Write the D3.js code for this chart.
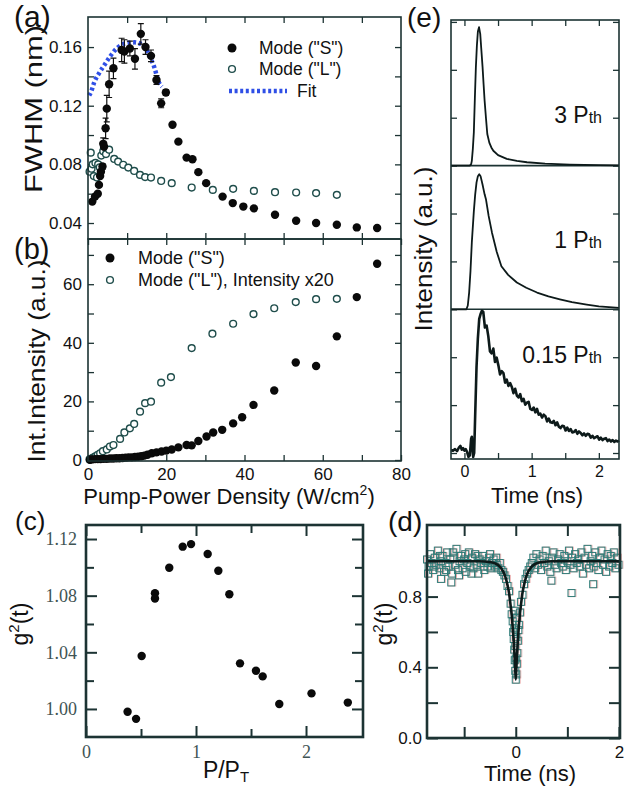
<!DOCTYPE html>
<html>
<head>
<meta charset="utf-8">
<script src="https://cdn.jsdelivr.net/npm/d3@7"></script>
<style>
body { margin: 0; background: #fff; }
</style>
</head>
<body>
<svg id="fig" width="636" height="787"></svg>
<script>
// ---- (a) FWHM vs pump power density ----
const aSx = [1.1,1.8,2.5,2.8,3.1,3.3,3.7,3.9,4.1,4.5,4.8,5.4,6.5,8.6,9.3,10.7,12.0,13.5,14.7,16.1,17.5,18.7,19.9,21.6,23.1,25.2,26.7,28.2,30.2,34.4,37.0,39.7,42.4,47.8,53.2,58.3,63.6,68.7,73.9];
const aSy = [0.0546,0.058,0.060,0.066,0.072,0.075,0.0785,0.094,0.092,0.1046,0.118,0.1346,0.1455,0.158,0.157,0.159,0.152,0.169,0.160,0.154,0.1375,0.1216,0.129,0.107,0.0955,0.0846,0.0835,0.0747,0.0672,0.058,0.0536,0.0512,0.050,0.0456,0.0415,0.040,0.0388,0.037,0.0366];
const aSerr = [0,0,0,0,0,0,0.002,0.004,0,0.007,0.009,0.009,0.007,0.008,0.008,0.005,0.007,0.007,0.005,0.004,0.003,0.003,0.002,0,0,0,0,0,0,0,0,0,0,0,0,0,0,0,0];
const aLx = [0.4,0.7,0.9,1.2,1.5,1.9,2.3,2.6,3.0,3.4,3.9,4.6,5.4,6.7,7.7,9.0,10.3,11.8,13.3,14.6,16.1,18.7,21.4,26.5,31.9,37.1,42.4,47.8,53.2,58.3,63.6];
const aLy = [0.075,0.088,0.077,0.080,0.072,0.081,0.071,0.080,0.078,0.086,0.089,0.087,0.090,0.0837,0.0819,0.0797,0.0778,0.0755,0.0728,0.0713,0.071,0.0687,0.0672,0.0642,0.0626,0.0633,0.0619,0.061,0.0608,0.0604,0.0592];
const fitX = [0.3,0.8,1.6,2.8,4.2,5.6,7.3,9.5,11.8,14.1,15.8,16.9,18.1,18.9];
const fitY = [0.127,0.1296,0.136,0.142,0.1477,0.1534,0.159,0.1625,0.1632,0.1614,0.1534,0.1466,0.136,0.133];

// ---- (b) integrated intensity ----
const bSx = [0.5,1.0,1.8,2.5,3.2,4.0,4.8,5.6,6.4,7.2,8.0,8.8,9.6,10.4,11.2,12.0,12.8,13.6,14.4,15.2,16.3,17.5,18.8,20.0,21.4,23.1,25.2,26.5,28.2,30.3,32.0,34.3,37.1,39.4,42.3,47.6,53.1,58.3,63.6,68.7,73.9];
const bSy = [0.1,0.2,0.3,0.3,0.3,0.4,0.4,0.5,0.5,0.6,0.6,0.7,0.8,0.9,0.9,1.0,1.1,1.3,1.5,1.8,2.3,2.6,2.9,3.2,3.6,4.3,5.1,5.0,6.5,8.0,9.4,10.3,12.5,14.6,18.8,23.7,33.3,32.1,42.2,55.6,67.0];
const bLx = [0.4,0.8,1.2,1.6,2.0,2.5,3.1,3.8,4.8,5.6,6.5,8.2,9.3,10.7,11.8,13.3,14.6,16.1,18.7,21.2,26.5,31.8,37.1,42.3,47.6,53.1,58.3,63.6];
const bLy = [0.2,0.4,0.7,1.0,1.3,1.8,2.3,3.0,3.6,4.6,5.1,7.2,9.4,10.8,12.3,16.5,19.4,19.9,26.4,28.3,38.2,43.1,46.5,49.8,51.8,53.9,54.9,55.0];

// ---- (c) g2 vs P/PT ----
const cX = [0.378,0.455,0.506,0.627,0.627,0.757,0.879,0.955,1.106,1.203,1.303,1.40,1.545,1.606,1.757,2.05,2.38];
const cY = [0.998,0.993,1.0374,1.0817,1.078,1.0997,1.1146,1.1164,1.1094,1.0976,1.081,1.0322,1.027,1.023,1.0035,1.011,1.0045];

// ---- (d) g2(t) measured squares and fit ----
const dPoints = [
  [-1.72,1.01],[-1.69,0.97],[-1.66,1.04],[-1.63,0.99],[-1.60,0.95],[-1.57,1.02],[-1.54,0.98],[-1.51,1.06],[-1.48,0.96],[-1.45,1.00],
  [-1.42,1.03],[-1.39,0.94],[-1.36,0.99],[-1.33,1.05],[-1.30,0.97],[-1.27,1.01],[-1.24,0.93],[-1.21,1.02],[-1.18,0.98],[-1.15,1.07],
  [-1.12,0.95],[-1.09,1.00],[-1.06,1.03],[-1.03,0.96],[-1.00,1.01],[-0.97,0.94],[-0.94,0.99],[-0.91,1.05],[-0.88,0.97],[-0.85,1.02],
  [-0.82,0.96],[-0.79,1.04],[-0.76,0.98],[-0.73,0.93],[-0.70,1.01],[-0.67,0.99],[-0.64,1.03],[-0.61,0.95],[-0.58,1.00],[-0.55,0.97],
  [-0.52,1.02],[-0.49,0.96],[-0.46,0.99],[-0.43,1.01],[-0.40,0.97],[-0.37,0.98],[-0.34,0.96],[-0.31,0.99],[-0.28,0.95],[-0.25,0.94],
  [-1.70,0.93],[-1.58,0.97],[-1.47,1.03],[-1.35,0.95],[-1.22,1.05],[-1.10,0.92],[-0.98,1.04],[-0.86,0.93],[-0.74,1.03],[-0.62,0.97],
  [-0.50,1.04],[-0.38,1.02],[-1.25,0.88],[-1.45,0.90],
  [-0.22,0.92],[-0.19,0.90],[-0.16,0.86],[-0.13,0.83],[-0.10,0.76],[-0.08,0.70],[-0.06,0.66],[-0.05,0.60],[-0.04,0.56],[-0.03,0.50],
  [-0.02,0.44],[-0.01,0.38],[0.00,0.33],[0.01,0.36],[0.02,0.42],[0.03,0.48],[0.04,0.55],[0.05,0.61],[0.06,0.64],[0.08,0.71],
  [0.10,0.77],[0.13,0.81],[0.16,0.87],[0.19,0.90],[0.22,0.93],[0.25,0.95],[0.28,0.97],
  [-0.03,0.62],[0.00,0.45],[0.02,0.68],[-0.02,0.72],[0.01,0.57],[-0.01,0.52],
  [0.31,0.99],[0.34,1.02],[0.37,0.96],[0.40,1.04],[0.43,0.98],[0.46,1.01],[0.49,0.95],[0.52,1.03],[0.55,0.99],[0.58,1.06],
  [0.61,0.97],[0.64,1.00],[0.67,0.94],[0.70,1.02],[0.73,1.05],[0.76,0.98],[0.79,0.96],[0.82,1.01],[0.85,1.04],[0.88,0.99],
  [0.91,0.97],[0.94,1.03],[0.97,0.95],[1.00,1.00],[1.03,1.06],[1.06,0.98],[1.09,1.02],[1.12,0.96],[1.15,1.04],[1.18,0.99],
  [1.21,1.01],[1.24,0.97],[1.27,1.05],[1.30,0.93],[1.33,1.02],[1.36,0.98],[1.39,1.07],[1.42,0.96],[1.45,1.00],[1.48,1.03],
  [1.51,0.97],[1.54,1.05],[1.57,0.99],[1.60,0.95],[1.63,1.02],[1.66,1.06],[1.69,0.98],[1.72,1.01],[1.75,0.94],[1.78,1.04],
  [1.81,0.97],[1.84,1.03],[1.87,0.99],[1.90,1.05],[1.93,0.96],[1.96,1.02],[1.99,0.98],
  [0.69,0.89],[1.08,0.82],[1.50,0.87]
];
const dFitT = [-1.72,-0.7,-0.5,-0.4,-0.3,-0.25,-0.2,-0.16,-0.13,-0.1,-0.08,-0.06,-0.04,-0.02,0,0.02,0.04,0.06,0.08,0.1,0.13,0.16,0.2,0.25,0.3,0.4,0.5,0.7,2.02];
const dFitG = [1.0,1.0,0.995,0.988,0.967,0.945,0.91,0.865,0.82,0.75,0.70,0.63,0.55,0.45,0.33,0.45,0.55,0.63,0.70,0.75,0.82,0.865,0.91,0.945,0.967,0.988,0.995,1.0,1.0];

// ---- (e) streak-camera time traces (value above each baseline) ----
const trace3 = [[-0.2,0],[0.08,0],[0.10,0.03],[0.11,0.1],[0.125,0.35],[0.14,0.7],[0.155,1.4],[0.17,2.05],[0.185,2.5],[0.20,2.8],[0.217,2.89],[0.235,2.75],[0.25,2.45],[0.27,2.05],[0.285,1.7],[0.30,1.36],[0.32,1.0],[0.34,0.66],[0.37,0.48],[0.40,0.38],[0.43,0.31],[0.5,0.22],[0.63,0.14],[0.78,0.1],[0.93,0.07],[1.2,0.04],[1.57,0.02],[2.0,0.01],[2.3,0.005]];
const trace1 = [[-0.2,0],[0.03,0],[0.05,0.08],[0.07,0.35],[0.09,0.8],[0.11,1.4],[0.14,2.05],[0.16,2.4],[0.18,2.65],[0.20,2.78],[0.22,2.82],[0.24,2.78],[0.27,2.6],[0.30,2.4],[0.32,2.3],[0.36,1.95],[0.41,1.6],[0.48,1.2],[0.55,0.9],[0.65,0.72],[0.78,0.56],[0.92,0.45],[1.08,0.35],[1.25,0.27],[1.42,0.21],[1.6,0.15],[1.82,0.1],[2.0,0.06],[2.3,0.03]];
const trace015 = [[-0.2,0.06],[-0.17,0.05],[-0.14,0.08],[-0.11,0.04],[-0.08,0.12],[-0.06,0.15],[-0.04,0.07],[-0.02,0.10],[0.0,0.05],[0.02,0.08],[0.04,0.02],[0.06,-0.08],[0.08,-0.05],[0.10,0.3],[0.11,0.34],[0.12,0.1],[0.13,-0.08],[0.145,0.0],[0.16,0.8],[0.18,1.8],[0.20,2.4],[0.22,2.8],[0.24,2.9],[0.26,2.97],
  [0.28,2.95],[0.305,2.62],[0.33,2.66],[0.355,2.44],[0.38,2.12],[0.405,2.08],[0.43,2.18],[0.455,1.90],[0.48,1.99],[0.505,1.83],
  [0.53,1.64],[0.555,1.71],[0.58,1.67],[0.605,1.47],[0.63,1.53],[0.655,1.40],[0.68,1.46],[0.705,1.38],[0.73,1.25],[0.755,1.34],
  [0.78,1.20],[0.805,1.16],[0.83,1.23],[0.855,1.08],[0.88,1.13],[0.905,1.01],[0.93,1.05],[0.955,1.07],[0.98,0.92],[1.005,0.90],
  [1.03,0.95],[1.055,0.85],[1.08,0.92],[1.105,0.80],[1.13,0.82],[1.155,0.74],[1.18,0.80],[1.205,0.77],[1.23,0.66],[1.255,0.72],
  [1.28,0.64],[1.305,0.63],[1.33,0.67],[1.355,0.58],[1.38,0.64],[1.405,0.55],[1.43,0.52],[1.455,0.57],[1.48,0.56],[1.505,0.47],
  [1.53,0.53],[1.555,0.46],[1.58,0.50],[1.605,0.43],[1.63,0.44],[1.655,0.48],[1.68,0.40],[1.705,0.45],[1.73,0.42],[1.755,0.37],
  [1.78,0.41],[1.805,0.36],[1.83,0.40],[1.855,0.39],[1.88,0.32],[1.905,0.36],[1.93,0.31],[1.955,0.33],[1.98,0.35],[2.005,0.28],
  [2.03,0.32],[2.055,0.27],[2.08,0.30],[2.105,0.31],[2.13,0.25],[2.155,0.28],[2.18,0.24],[2.205,0.27],[2.23,0.23],[2.255,0.26],
  [2.28,0.24],[2.3,0.26]];
const traceLabels = ["0.15 P", "1 P", "3 P"];

const svg = d3.select("#fig");
const frameCol = "#1c3333";
const sans = "'Liberation Sans', Arial, Helvetica, sans-serif";
const serif = "'Liberation Serif', 'Times New Roman', serif";
const none = () => "";

function frame(x, y, sw) {
  const [x0, x1] = x.range(), [y0, y1] = y.range();
  svg.append("rect")
    .attr("x", x0).attr("y", y1)
    .attr("width", x1 - x0).attr("height", y0 - y1)
    .attr("fill", "none").attr("stroke", frameCol).attr("stroke-width", sw);
}

function put(gen, tx, ty, c) {
  const g = svg.append("g").attr("transform", `translate(${tx},${ty})`).call(gen);
  g.select(".domain").remove();
  g.attr("font-family", c.font).attr("font-size", c.size);
  g.selectAll("line").attr("stroke", frameCol).attr("stroke-width", c.sw);
  g.selectAll("text").attr("fill", c.col);
}

// inward ticks on all four sides, labels on bottom and left
function ticks(x, y, c) {
  const [x0, x1] = x.range(), [y0, y1] = y.range();
  put(d3.axisBottom(x).tickValues(c.xMaj).tickSize(-c.len).tickPadding(c.xPad).tickFormat(c.xFmt || none), 0, y0, c);
  put(d3.axisBottom(x).tickValues(c.xMin).tickSize(-c.minLen).tickFormat(none), 0, y0, c);
  put(d3.axisTop(x).tickValues(c.xMaj).tickSize(-c.len).tickFormat(none), 0, y1, c);
  put(d3.axisTop(x).tickValues(c.xMin).tickSize(-c.minLen).tickFormat(none), 0, y1, c);
  put(d3.axisLeft(y).tickValues(c.yMaj).tickSize(-c.len).tickPadding(c.yPad).tickFormat(c.yFmt || none), x0, 0, c);
  put(d3.axisLeft(y).tickValues(c.yMin).tickSize(-c.minLen).tickFormat(none), x0, 0, c);
  put(d3.axisRight(y).tickValues(c.yMaj).tickSize(-c.len).tickFormat(none), x1, 0, c);
  put(d3.axisRight(y).tickValues(c.yMin).tickSize(-c.minLen).tickFormat(none), x1, 0, c);
}

function label(txt, x, y, size, opts = {}) {
  const t = svg.append("text").attr("x", x).attr("y", y)
    .attr("font-family", opts.font || sans).attr("font-size", size)
    .attr("fill", opts.col || "#111")
    .attr("text-anchor", opts.anchor || "start")
    .text(txt);
  if (opts.rot) t.attr("transform", `rotate(-90,${x},${y})`);
  if (opts.len) t.attr("textLength", opts.len).attr("lengthAdjust", "spacingAndGlyphs");
  return t;
}

// ============ panel (a) ============
const xa = d3.scaleLinear().domain([0, 80]).range([88, 401]);
const ya = d3.scaleLinear().domain([0.0291, 0.1805]).range([239, 17]);
ticks(xa, ya, {xMaj: [10,20,30,40,50,60,70], xMin: [], yMaj: [0.04,0.08,0.12,0.16], yMin: [0.06,0.10,0.14],
  yFmt: d3.format(".2f"), len: 6, minLen: 6, xPad: 7, yPad: 6, sw: 1.3, font: sans, size: 17, col: "#111"});

svg.append("path")
  .datum(d3.zip(fitX, fitY))
  .attr("fill", "none").attr("stroke", "#2f4fe6").attr("stroke-width", 4.5)
  .attr("stroke-dasharray", "3,2.6")
  .attr("d", d3.line().x(d => xa(d[0])).y(d => ya(d[1])).curve(d3.curveMonotoneX));

const aS = d3.zip(aSx, aSy, aSerr);
svg.append("g").selectAll("line").data(aS.filter(d => d[2] > 0)).join("line")
  .attr("x1", d => xa(d[0])).attr("x2", d => xa(d[0]))
  .attr("y1", d => ya(d[1] - d[2])).attr("y2", d => ya(d[1] + d[2]))
  .attr("stroke", "#111").attr("stroke-width", 1.2);
svg.append("g").selectAll("path").data(aS.filter(d => d[2] > 0)).join("path")
  .attr("d", d => `M${xa(d[0]) - 3},${ya(d[1] - d[2])}h6M${xa(d[0]) - 3},${ya(d[1] + d[2])}h6`)
  .attr("stroke", "#111").attr("stroke-width", 1.2);
svg.append("g").selectAll("circle").data(d3.zip(aLx, aLy)).join("circle")
  .attr("cx", d => xa(d[0])).attr("cy", d => ya(d[1])).attr("r", 3.4)
  .attr("fill", "#fff").attr("stroke", "#1f4d4b").attr("stroke-width", 1.4);
svg.append("g").selectAll("circle").data(aS).join("circle")
  .attr("cx", d => xa(d[0])).attr("cy", d => ya(d[1])).attr("r", 4.2)
  .attr("fill", "#0a0a0a");
frame(xa, ya, 1.6);

// legend (a)
svg.append("circle").attr("cx", 232).attr("cy", 48).attr("r", 4.5).attr("fill", "#0a0a0a");
svg.append("circle").attr("cx", 232).attr("cy", 69).attr("r", 3.4).attr("fill", "#fff").attr("stroke", "#1f4d4b").attr("stroke-width", 1.4);
svg.append("line").attr("x1", 229).attr("x2", 287).attr("y1", 91).attr("y2", 91)
  .attr("stroke", "#2f4fe6").attr("stroke-width", 4.5).attr("stroke-dasharray", "3,2.6");
label('Mode ("S")', 259, 54, 17.5);
label('Mode ("L")', 259, 75, 17.5);
label("Fit", 297, 97, 17.5);

label("(a)", 14, 27, 30);
label("FWHM (nm)", 42, 109, 24, {rot: true, anchor: "middle", len: 168});

// ============ panel (b) ============
const xb = d3.scaleLinear().domain([0, 80]).range([88, 401]);
const yb = d3.scaleLinear().domain([-0.34, 75.43]).range([461, 239]);
ticks(xb, yb, {xMaj: [0,20,40,60,80], xMin: [10,30,50,70], yMaj: [0,20,40,60], yMin: [10,30,50,70],
  xFmt: d3.format("d"), yFmt: d3.format("d"), len: 6, minLen: 6, xPad: 7, yPad: 6, sw: 1.3, font: sans, size: 17, col: "#111"});
svg.append("g").selectAll("circle").data(d3.zip(bLx, bLy)).join("circle")
  .attr("cx", d => xb(d[0])).attr("cy", d => yb(d[1])).attr("r", 3.4)
  .attr("fill", "#fff").attr("stroke", "#1f4d4b").attr("stroke-width", 1.4);
svg.append("g").selectAll("circle").data(d3.zip(bSx, bSy)).join("circle")
  .attr("cx", d => xb(d[0])).attr("cy", d => yb(d[1])).attr("r", 4.2)
  .attr("fill", "#0a0a0a");
frame(xb, yb, 1.6);

svg.append("circle").attr("cx", 110).attr("cy", 258).attr("r", 4.5).attr("fill", "#0a0a0a");
svg.append("circle").attr("cx", 110).attr("cy", 280).attr("r", 3.4).attr("fill", "#fff").attr("stroke", "#1f4d4b").attr("stroke-width", 1.4);
label('Mode ("S")', 138, 264, 18);
label('Mode ("L"), Intensity x20', 138, 286, 18);

label("(b)", 14, 259, 29);
label("Int.Intensity (a.u.)", 45, 361, 24, {rot: true, anchor: "middle", len: 203});
const xlab = label("Pump-Power Density (W/cm", 229, 504, 22, {anchor: "middle"});
xlab.append("tspan").attr("font-size", 14).attr("dy", -9).text("2");
xlab.append("tspan").attr("dy", 9).text(")");

// ============ panel (e) ============
const xe = d3.scaleLinear().domain([-0.2, 2.3]).range([451, 619]);
const ye = d3.scaleLinear().domain([-0.125, 9.04]).range([459, 20]);
ticks(xe, ye, {xMaj: [0,1,2], xMin: [0.5,1.5], yMaj: [0,1,2,3,4,5,6,7,8,9], yMin: [],
  xFmt: d3.format("d"), len: 6, minLen: 6, xPad: 7, yPad: 6, sw: 1.3, font: sans, size: 16, col: "#111"});
[3, 6].forEach(v => {
  svg.append("line").attr("x1", xe.range()[0]).attr("x2", xe.range()[1])
    .attr("y1", ye(v)).attr("y2", ye(v)).attr("stroke", frameCol).attr("stroke-width", 1.6);
});
const traces = [trace015, trace1, trace3];
traces.forEach((tr, i) => {
  svg.append("path").datum(tr)
    .attr("fill", "none").attr("stroke", "#0d1a1a")
    .attr("stroke-width", i === 0 ? 2.6 : 1.8).attr("stroke-linejoin", "round")
    .attr("d", d3.line().x(d => xe(d[0])).y(d => ye(d[1] + 3 * i)));
});
frame(xe, ye, 1.6);
const labY = [363, 248, 123];
traceLabels.forEach((s, i) => {
  const t = label(s, 602, labY[i], 23, {anchor: "end"});
  t.append("tspan").attr("font-size", 16).text("th");
});
label("(e)", 407, 27, 28);
label("Intensity (a.u.)", 432, 249, 23, {rot: true, anchor: "middle", len: 165});
label("Time (ns)", 537, 503, 22, {anchor: "middle"});

// ============ panel (c) ============
const xc = d3.scaleLinear().domain([0, 2.518]).range([86, 363]);
const yc = d3.scaleLinear().domain([0.9802, 1.1299]).range([737, 525]);
ticks(xc, yc, {xMaj: [0,1,2], xMin: [0.5,1.5], yMaj: [1.00,1.04,1.08,1.12], yMin: [1.02,1.06,1.10],
  xFmt: d3.format("d"), yFmt: d3.format(".2f"), len: 11, minLen: 8, xPad: 8, yPad: 9, sw: 2, font: serif, size: 18, col: "#3f5454"});
svg.append("g").selectAll("circle").data(d3.zip(cX, cY)).join("circle")
  .attr("cx", d => xc(d[0])).attr("cy", d => yc(d[1])).attr("r", 4.2)
  .attr("fill", "#0a0a0a");
frame(xc, yc, 2.6);
label("(c)", 15, 530, 26);
const gc = label("g", 28, 624, 23, {rot: true, anchor: "middle"});
gc.append("tspan").attr("font-size", 15).attr("dy", -9).text("2");
gc.append("tspan").attr("dy", 9).text("(t)");
const pc = label("P/P", 226, 778, 23, {anchor: "middle"});
pc.append("tspan").attr("font-size", 15).attr("dy", 4).text("T");

// ============ panel (d) ============
const xd = d3.scaleLinear().domain([-1.72, 2.02]).range([427, 620]);
const yd = d3.scaleLinear().domain([0, 1.205]).range([738, 525]);
ticks(xd, yd, {xMaj: [-1,0,1,2], xMin: [], yMaj: [0,0.4,0.8], yMin: [0.2,0.6,1.0],
  xFmt: d => (d === 0 || d === 2) ? d : "", yFmt: d3.format(".1f"), len: 11, minLen: 11, xPad: 8, yPad: 5, sw: 2, font: sans, size: 17, col: "#111"});
const sq = 7;
svg.append("g").selectAll("rect").data(dPoints).join("rect")
  .attr("x", d => xd(d[0]) - sq / 2 + 1).attr("y", d => yd(d[1]) - sq / 2)
  .attr("width", sq).attr("height", sq)
  .attr("fill", "none").attr("stroke", "#e59a9a").attr("stroke-width", 1).attr("opacity", 0.7);
svg.append("g").selectAll("rect").data(dPoints).join("rect")
  .attr("x", d => xd(d[0]) - sq / 2).attr("y", d => yd(d[1]) - sq / 2)
  .attr("width", sq).attr("height", sq)
  .attr("fill", "none").attr("stroke", "#2f7c78").attr("stroke-width", 1);
svg.append("path").datum(d3.zip(dFitT, dFitG))
  .attr("fill", "none").attr("stroke", "#0d1a1a").attr("stroke-width", 2.6)
  .attr("d", d3.line().x(d => xd(d[0])).y(d => yd(d[1])).curve(d3.curveMonotoneX));
frame(xd, yd, 2.6);
label("(d)", 388, 531, 28);
const gd = label("g", 392, 624, 23, {rot: true, anchor: "middle"});
gd.append("tspan").attr("font-size", 15).attr("dy", -9).text("2");
gd.append("tspan").attr("dy", 9).text("(t)");
label("Time (ns)", 530, 781, 22, {anchor: "middle"});
</script>
</body>
</html>
